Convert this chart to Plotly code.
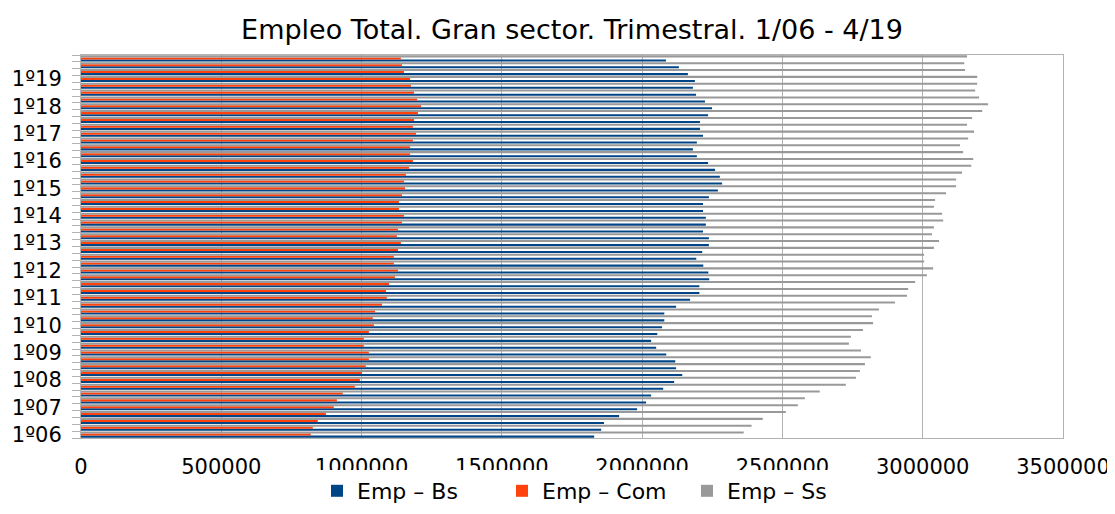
import plotly.graph_objects as go

# Quarters 1/06 .. 4/19
years = ["06", "07", "08", "09", "10", "11", "12", "13", "14", "15", "16", "17", "18", "19"]
quarters = [f"{q}º{y}" for y in years for q in (1, 2, 3, 4)]

emp_bs = [1829, 1854, 1864, 1918, 1982, 2014, 2032, 2075, 2114, 2143, 2121, 2118, 2086, 2050, 2032, 2054,
          2071, 2079, 2079, 2121, 2171, 2204, 2204, 2239, 2236, 2218, 2193, 2214, 2238, 2238, 2217, 2227,
          2227, 2217, 2217, 2238, 2270, 2285, 2277, 2260, 2235, 2195, 2181, 2195, 2217, 2206, 2206, 2235,
          2249, 2224, 2192, 2181, 2188, 2163, 2131, 2085]
emp_com = [819, 826, 844, 873, 901, 912, 933, 976, 994, 1001, 1015, 1026, 1026, 1008, 1008, 1026,
           1044, 1040, 1048, 1073, 1090, 1087, 1098, 1119, 1130, 1115, 1115, 1130, 1140, 1126, 1130, 1144,
           1151, 1133, 1133, 1144, 1155, 1151, 1158, 1169, 1183, 1173, 1173, 1183, 1194, 1183, 1187, 1201,
           1212, 1198, 1187, 1176, 1173, 1151, 1144, 1140]
emp_ss = [2362, 2390, 2430, 2512, 2555, 2580, 2633, 2726, 2762, 2776, 2794, 2815, 2780, 2737, 2744, 2787,
          2823, 2819, 2844, 2901, 2944, 2948, 2973, 3015, 3037, 3005, 3005, 3040, 3058, 3033, 3040, 3073,
          3069, 3040, 3044, 3083, 3119, 3119, 3140, 3173, 3180, 3144, 3133, 3162, 3183, 3158, 3176, 3212,
          3233, 3201, 3187, 3194, 3194, 3151, 3148, 3158]

series_names = ["Emp – Bs", "Emp – Com", "Emp – Ss"]
series_values = [emp_bs, emp_com, emp_ss]
colors = ["#004586", "#ff420e", "#999999"]

x_ticks = [0, 500000, 1000000, 1500000, 2000000, 2500000, 3000000, 3500000]

pos = list(range(len(quarters)))
label_pos = [i for i, q in enumerate(quarters) if q.startswith("1º")]
label_txt = [quarters[i] for i in label_pos]

fig = go.Figure()
for name, vals, col in zip(series_names, series_values, colors):
    fig.add_trace(go.Bar(
        y=pos, x=[v * 1000 for v in vals], name=name, orientation="h",
        marker=dict(color=col, line=dict(width=0)),
        customdata=quarters, hovertemplate="%{customdata}: %{x}<extra>" + name + "</extra>",
    ))

FONT = "DejaVu Sans, Liberation Sans, Arial, sans-serif"
W, H = 1115, 514
fig.update_layout(
    width=W, height=H,
    margin=dict(l=73, r=60, t=47, b=84, autoexpand=False),
    paper_bgcolor="white", plot_bgcolor="white",
    barmode="group", bargap=0.1, bargroupgap=0,
    font=dict(family=FONT, color="black"),
    title=dict(text="Empleo Total. Gran sector. Trimestral. 1/06 - 4/19",
               x=564 / W, xanchor="center", xref="container",
               y=1 - 22 / H, yanchor="middle", yref="container",
               font=dict(size=27, family=FONT, color="black")),
    showlegend=True,
    legend=dict(orientation="h", xref="container", yref="container",
                x=309 / W, xanchor="left", y=1 - 483 / H, yanchor="middle",
                font=dict(size=22, family=FONT, color="black"),
                itemwidth=30, entrywidth=140, entrywidthmode="pixels",
                traceorder="normal", tracegroupgap=0),
)
fig.update_xaxes(
    range=[0, 3500000], tickvals=x_ticks, ticktext=[str(t) for t in x_ticks],
    showgrid=True, gridcolor="#b3b3b3", gridwidth=1,
    showline=True, linecolor="#b3b3b3", linewidth=1, mirror=True,
    ticks="", ticklabelstandoff=10, zeroline=False, automargin=False,
    tickfont=dict(size=21, family=FONT, color="black"),
)
fig.update_yaxes(
    range=[-0.5, len(quarters) - 0.5], tickvals=label_pos, ticktext=label_txt,
    showgrid=False, zeroline=False, automargin=False,
    showline=True, linecolor="#b3b3b3", linewidth=1, mirror=True,
    ticks="", ticklabelstandoff=14,
    minor=dict(ticks="outside", tick0=0.5, dtick=1, ticklen=8, tickcolor="#b3b3b3", showgrid=False),
    tickfont=dict(size=21, family=FONT, color="black"),
)

fig.write_html("out.html")
